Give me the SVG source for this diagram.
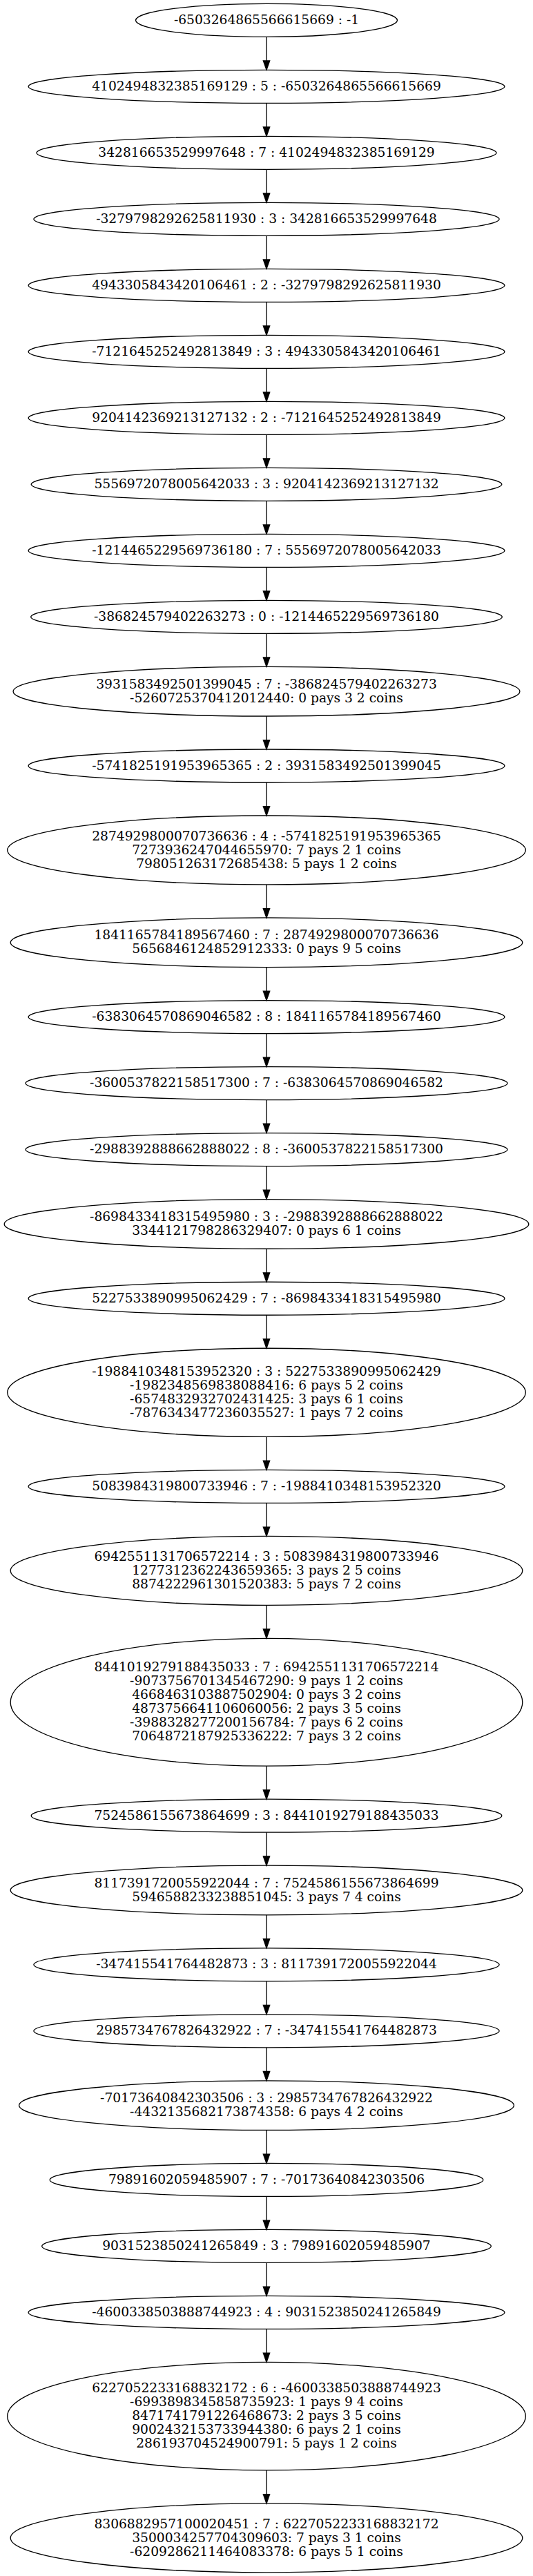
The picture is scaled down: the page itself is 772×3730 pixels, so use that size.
<svg xmlns="http://www.w3.org/2000/svg" width="772" height="3730" viewBox="0 0 772 3730">
<style>
.n ellipse{fill:none;stroke:#000;stroke-width:1.33}
.n text{font-family:"DejaVu Serif",serif;font-size:18.67px;text-anchor:middle;fill:#000}
#edges line{stroke:#000;stroke-width:1.33}
</style>
<defs>
<marker id="arr" markerUnits="userSpaceOnUse" markerWidth="18" markerHeight="14" refX="0" refY="7" orient="auto" viewBox="0 0 18 14" overflow="visible">
<path d="M0,2.33 L13.33,7 L0,11.67 z" fill="#000" stroke="#000" stroke-width="1.33"/>
</marker>
</defs>
<rect x="0" y="0" width="772" height="3730" fill="#fff"/>
<g id="edges">
<line x1="386" y1="53.33" x2="386" y2="88" marker-end="url(#arr)"/>
<line x1="386" y1="149.33" x2="386" y2="184" marker-end="url(#arr)"/>
<line x1="386" y1="245.33" x2="386" y2="280" marker-end="url(#arr)"/>
<line x1="386" y1="341.33" x2="386" y2="376" marker-end="url(#arr)"/>
<line x1="386" y1="437.33" x2="386" y2="472" marker-end="url(#arr)"/>
<line x1="386" y1="533.33" x2="386" y2="568" marker-end="url(#arr)"/>
<line x1="386" y1="629.33" x2="386" y2="664" marker-end="url(#arr)"/>
<line x1="386" y1="725.33" x2="386" y2="760" marker-end="url(#arr)"/>
<line x1="386" y1="821.33" x2="386" y2="856" marker-end="url(#arr)"/>
<line x1="386" y1="917.33" x2="386" y2="952" marker-end="url(#arr)"/>
<line x1="386" y1="1036.98" x2="386" y2="1071.65" marker-end="url(#arr)"/>
<line x1="386" y1="1132.98" x2="386" y2="1167.65" marker-end="url(#arr)"/>
<line x1="386" y1="1280.91" x2="386" y2="1315.58" marker-end="url(#arr)"/>
<line x1="386" y1="1400.56" x2="386" y2="1435.23" marker-end="url(#arr)"/>
<line x1="386" y1="1496.56" x2="386" y2="1531.23" marker-end="url(#arr)"/>
<line x1="386" y1="1592.56" x2="386" y2="1627.23" marker-end="url(#arr)"/>
<line x1="386" y1="1688.56" x2="386" y2="1723.23" marker-end="url(#arr)"/>
<line x1="386" y1="1808.21" x2="386" y2="1842.88" marker-end="url(#arr)"/>
<line x1="386" y1="1904.21" x2="386" y2="1938.88" marker-end="url(#arr)"/>
<line x1="386" y1="2080.41" x2="386" y2="2115.08" marker-end="url(#arr)"/>
<line x1="386" y1="2176.41" x2="386" y2="2211.08" marker-end="url(#arr)"/>
<line x1="386" y1="2324.34" x2="386" y2="2359.01" marker-end="url(#arr)"/>
<line x1="386" y1="2557.14" x2="386" y2="2591.81" marker-end="url(#arr)"/>
<line x1="386" y1="2653.14" x2="386" y2="2687.81" marker-end="url(#arr)"/>
<line x1="386" y1="2772.79" x2="386" y2="2807.46" marker-end="url(#arr)"/>
<line x1="386" y1="2868.79" x2="386" y2="2903.46" marker-end="url(#arr)"/>
<line x1="386" y1="2964.79" x2="386" y2="2999.46" marker-end="url(#arr)"/>
<line x1="386" y1="3084.44" x2="386" y2="3119.11" marker-end="url(#arr)"/>
<line x1="386" y1="3180.44" x2="386" y2="3215.11" marker-end="url(#arr)"/>
<line x1="386" y1="3276.44" x2="386" y2="3311.11" marker-end="url(#arr)"/>
<line x1="386" y1="3372.44" x2="386" y2="3407.11" marker-end="url(#arr)"/>
<line x1="386" y1="3576.94" x2="386" y2="3611.61" marker-end="url(#arr)"/>
</g>
<g id="n1" class="n"><ellipse cx="386" cy="29.33" rx="189.5" ry="24"/><text x="386" y="35.03">-6503264865566615669 : -1</text></g>
<g id="n2" class="n"><ellipse cx="386" cy="125.33" rx="344.9" ry="24"/><text x="386" y="131.03">4102494832385169129 : 5 : -6503264865566615669</text></g>
<g id="n3" class="n"><ellipse cx="386" cy="221.33" rx="333" ry="24"/><text x="386" y="227.03">342816653529997648 : 7 : 4102494832385169129</text></g>
<g id="n4" class="n"><ellipse cx="386" cy="317.33" rx="337.1" ry="24"/><text x="386" y="323.03">-3279798292625811930 : 3 : 342816653529997648</text></g>
<g id="n5" class="n"><ellipse cx="386" cy="413.33" rx="344.9" ry="24"/><text x="386" y="419.03">4943305843420106461 : 2 : -3279798292625811930</text></g>
<g id="n6" class="n"><ellipse cx="386" cy="509.33" rx="344.9" ry="24"/><text x="386" y="515.03">-7121645252492813849 : 3 : 4943305843420106461</text></g>
<g id="n7" class="n"><ellipse cx="386" cy="605.33" rx="344.9" ry="24"/><text x="386" y="611.03">9204142369213127132 : 2 : -7121645252492813849</text></g>
<g id="n8" class="n"><ellipse cx="386" cy="701.33" rx="340.8" ry="24"/><text x="386" y="707.03">5556972078005642033 : 3 : 9204142369213127132</text></g>
<g id="n9" class="n"><ellipse cx="386" cy="797.33" rx="344.9" ry="24"/><text x="386" y="803.03">-1214465229569736180 : 7 : 5556972078005642033</text></g>
<g id="n10" class="n"><ellipse cx="386" cy="893.33" rx="341.3" ry="24"/><text x="386" y="899.03">-386824579402263273 : 0 : -1214465229569736180</text></g>
<g id="n11" class="n"><ellipse cx="386" cy="1001.16" rx="366.9" ry="35.83"/><text x="386" y="996.86">3931583492501399045 : 7 : -386824579402263273<tspan x="386" dy="20">-5260725370412012440: 0 pays 3 2 coins</tspan></text></g>
<g id="n12" class="n"><ellipse cx="386" cy="1108.98" rx="344.9" ry="24"/><text x="386" y="1114.68">-5741825191953965365 : 2 : 3931583492501399045</text></g>
<g id="n13" class="n"><ellipse cx="386" cy="1230.95" rx="375.3" ry="49.97"/><text x="386" y="1216.65">2874929800070736636 : 4 : -5741825191953965365<tspan x="386" dy="20">7273936247044655970: 7 pays 2 1 coins</tspan><tspan x="386" dy="20">798051263172685438: 5 pays 1 2 coins</tspan></text></g>
<g id="n14" class="n"><ellipse cx="386" cy="1364.74" rx="370.8" ry="35.83"/><text x="386" y="1360.44">1841165784189567460 : 7 : 2874929800070736636<tspan x="386" dy="20">5656846124852912333: 0 pays 9 5 coins</tspan></text></g>
<g id="n15" class="n"><ellipse cx="386" cy="1472.56" rx="344.9" ry="24"/><text x="386" y="1478.26">-6383064570869046582 : 8 : 1841165784189567460</text></g>
<g id="n16" class="n"><ellipse cx="386" cy="1568.56" rx="349" ry="24"/><text x="386" y="1574.26">-3600537822158517300 : 7 : -6383064570869046582</text></g>
<g id="n17" class="n"><ellipse cx="386" cy="1664.56" rx="349" ry="24"/><text x="386" y="1670.26">-2988392888662888022 : 8 : -3600537822158517300</text></g>
<g id="n18" class="n"><ellipse cx="386" cy="1772.39" rx="379.8" ry="35.83"/><text x="386" y="1768.09">-8698433418315495980 : 3 : -2988392888662888022<tspan x="386" dy="20">3344121798286329407: 0 pays 6 1 coins</tspan></text></g>
<g id="n19" class="n"><ellipse cx="386" cy="1880.21" rx="344.9" ry="24"/><text x="386" y="1885.91">5227533890995062429 : 7 : -8698433418315495980</text></g>
<g id="n20" class="n"><ellipse cx="386" cy="2016.31" rx="375.3" ry="64.1"/><text x="386" y="1992.01">-1988410348153952320 : 3 : 5227533890995062429<tspan x="386" dy="20">-1982348569838088416: 6 pays 5 2 coins</tspan><tspan x="386" dy="20">-6574832932702431425: 3 pays 6 1 coins</tspan><tspan x="386" dy="20">-7876343477236035527: 1 pays 7 2 coins</tspan></text></g>
<g id="n21" class="n"><ellipse cx="386" cy="2152.41" rx="344.9" ry="24"/><text x="386" y="2158.11">5083984319800733946 : 7 : -1988410348153952320</text></g>
<g id="n22" class="n"><ellipse cx="386" cy="2274.38" rx="370.8" ry="49.97"/><text x="386" y="2260.08">6942551131706572214 : 3 : 5083984319800733946<tspan x="386" dy="20">1277312362243659365: 3 pays 2 5 coins</tspan><tspan x="386" dy="20">8874222961301520383: 5 pays 7 2 coins</tspan></text></g>
<g id="n23" class="n"><ellipse cx="386" cy="2464.74" rx="370.8" ry="92.4"/><text x="386" y="2420.44">8441019279188435033 : 7 : 6942551131706572214<tspan x="386" dy="20">-9073756701345467290: 9 pays 1 2 coins</tspan><tspan x="386" dy="20">4668463103887502904: 0 pays 3 2 coins</tspan><tspan x="386" dy="20">4873756641106060056: 2 pays 3 5 coins</tspan><tspan x="386" dy="20">-3988328277200156784: 7 pays 6 2 coins</tspan><tspan x="386" dy="20">7064872187925336222: 7 pays 3 2 coins</tspan></text></g>
<g id="n24" class="n"><ellipse cx="386" cy="2629.14" rx="340.8" ry="24"/><text x="386" y="2634.84">7524586155673864699 : 3 : 8441019279188435033</text></g>
<g id="n25" class="n"><ellipse cx="386" cy="2736.97" rx="370.8" ry="35.83"/><text x="386" y="2732.67">8117391720055922044 : 7 : 7524586155673864699<tspan x="386" dy="20">5946588233238851045: 3 pays 7 4 coins</tspan></text></g>
<g id="n26" class="n"><ellipse cx="386" cy="2844.79" rx="337.1" ry="24"/><text x="386" y="2850.49">-347415541764482873 : 3 : 8117391720055922044</text></g>
<g id="n27" class="n"><ellipse cx="386" cy="2940.79" rx="337.1" ry="24"/><text x="386" y="2946.49">2985734767826432922 : 7 : -347415541764482873</text></g>
<g id="n28" class="n"><ellipse cx="386" cy="3048.62" rx="358.4" ry="35.83"/><text x="386" y="3044.32">-70173640842303506 : 3 : 2985734767826432922<tspan x="386" dy="20">-4432135682173874358: 6 pays 4 2 coins</tspan></text></g>
<g id="n29" class="n"><ellipse cx="386" cy="3156.44" rx="313.8" ry="24"/><text x="386" y="3162.14">79891602059485907 : 7 : -70173640842303506</text></g>
<g id="n30" class="n"><ellipse cx="386" cy="3252.44" rx="325.3" ry="24"/><text x="386" y="3258.14">9031523850241265849 : 3 : 79891602059485907</text></g>
<g id="n31" class="n"><ellipse cx="386" cy="3348.44" rx="344.9" ry="24"/><text x="386" y="3354.14">-4600338503888744923 : 4 : 9031523850241265849</text></g>
<g id="n32" class="n"><ellipse cx="386" cy="3498.69" rx="375.3" ry="78.25"/><text x="386" y="3464.39">6227052233168832172 : 6 : -4600338503888744923<tspan x="386" dy="20">-6993898345858735923: 1 pays 9 4 coins</tspan><tspan x="386" dy="20">8471741791226468673: 2 pays 3 5 coins</tspan><tspan x="386" dy="20">9002432153733944380: 6 pays 2 1 coins</tspan><tspan x="386" dy="20">286193704524900791: 5 pays 1 2 coins</tspan></text></g>
<g id="n33" class="n"><ellipse cx="386" cy="3674.91" rx="370.8" ry="49.97"/><text x="386" y="3660.61">8306882957100020451 : 7 : 6227052233168832172<tspan x="386" dy="20">3500034257704309603: 7 pays 3 1 coins</tspan><tspan x="386" dy="20">-6209286211464083378: 6 pays 5 1 coins</tspan></text></g>
</svg>
